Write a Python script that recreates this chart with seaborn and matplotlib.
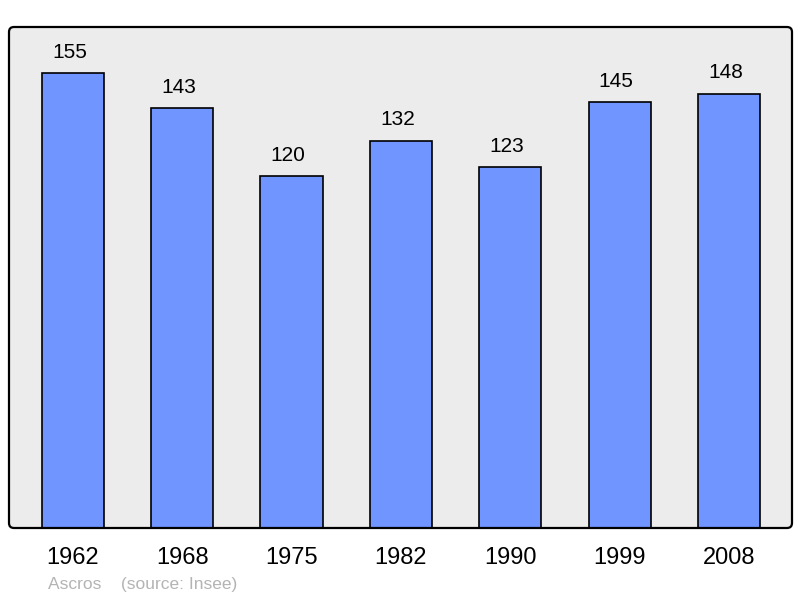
import seaborn as sns
import pandas as pd
import matplotlib.pyplot as plt
from matplotlib.patches import FancyBboxPatch
from matplotlib.transforms import IdentityTransform

# Data
years = ["1962", "1968", "1975", "1982", "1990", "1999", "2008"]
population = [155, 143, 120, 132, 123, 145, 148]

df = pd.DataFrame({"year": years, "pop": population})

sns.set_theme(style="white")
plt.rcParams['font.family'] = ['Liberation Sans', 'DejaVu Sans']

fig = plt.figure(figsize=(8, 5.98), dpi=100)
ax = fig.add_axes([9 / 800, 70 / 598, 783 / 800, 501 / 598])
ax.set_facecolor("#ececec")

sns.barplot(data=df, x="year", y="pop", color="#7095ff", saturation=1,
            width=0.57, edgecolor="black", linewidth=1.2, ax=ax)

# value labels sit a little left of the bar centre in the original
for i, v in enumerate(population):
    ax.text(i - 0.032, v + 3.8, str(v), ha="center", va="bottom", fontsize=15, color="black")

ax.set_xlim(-0.585, 6.576)
ax.set_ylim(0, 170.7)
ax.set_yticks([])
ax.set_xlabel("")
ax.set_ylabel("")
ax.tick_params(axis="x", length=0, labelsize=17, pad=14, colors="black")
for s in ax.spines.values():
    s.set_visible(False)

# rounded frame around the plot area (pixel coords)
frame = FancyBboxPatch((9, 70), 783, 501, boxstyle="round,pad=0,rounding_size=5",
                       transform=IdentityTransform(), facecolor="none",
                       edgecolor="black", linewidth=1.6, zorder=10, clip_on=False)
ax.add_artist(frame)

fig.text(48 / 800, 1 - 584 / 598, "Ascros    (source: Insee)", color="#b4b4b4",
         fontsize=12.5, va="center", ha="left")

fig.savefig("out.png", dpi=100)
